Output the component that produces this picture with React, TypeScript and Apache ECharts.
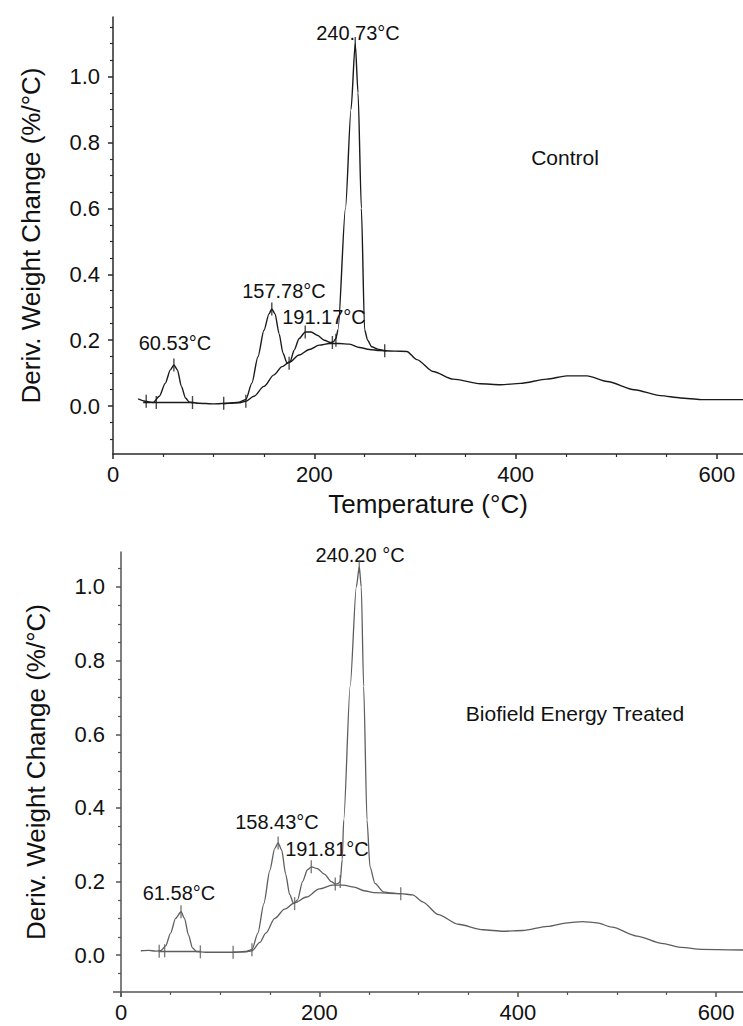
import React, { useEffect, useRef } from "react";
import * as echarts from "echarts";

// ---------- tick values ----------
const xMajorTicks = [0, 200, 400, 600];
const xMinorTicks = [50, 100, 150, 250, 300, 350, 450, 500, 550];
const yMajorTicks = [0, 0.2, 0.4, 0.6, 0.8, 1.0];
const yMinorTicksTop = [-0.1, -0.05, 0.05, 0.1, 0.15, 0.25, 0.3, 0.35, 0.45, 0.5, 0.55, 0.65, 0.7, 0.75, 0.85, 0.9, 0.95, 1.05, 1.1, 1.15];
const yMinorTicksBottom = [-0.05, 0.05, 0.1, 0.15, 0.25, 0.3, 0.35, 0.45, 0.5, 0.55, 0.65, 0.7, 0.75, 0.85, 0.9, 0.95, 1.05];

// ---------- Control (top) ----------
const ctrlT = [25, 32, 40, 46, 52, 57, 60.5, 64, 68, 72, 76, 85, 100, 115, 125, 132, 138, 144, 150, 155, 157.8, 161, 165, 169, 173, 176, 180, 185, 191, 197, 203, 210, 216, 219, 221.5, 223.6, 231, 236.5, 240.7, 243.5, 246.8, 250, 253, 257, 263, 270, 280, 292, 302, 318, 338, 365, 385, 405, 431, 451, 471, 491, 518, 544, 564, 584, 626];
const ctrlD = [0.022, 0.015, 0.011, 0.03, 0.07, 0.11, 0.125, 0.11, 0.06, 0.025, 0.012, 0.009, 0.007, 0.009, 0.012, 0.02, 0.07, 0.15, 0.23, 0.28, 0.295, 0.28, 0.22, 0.16, 0.13, 0.135, 0.17, 0.205, 0.225, 0.225, 0.215, 0.2, 0.193, 0.195, 0.205, 0.232, 0.6, 0.9, 1.1, 0.95, 0.6, 0.232, 0.2, 0.18, 0.173, 0.168, 0.167, 0.166, 0.141, 0.105, 0.082, 0.068, 0.065, 0.069, 0.082, 0.092, 0.092, 0.075, 0.05, 0.032, 0.025, 0.02, 0.02];
const ctrlBaseT = [110, 125, 132, 140, 150, 160, 168, 175, 185, 195, 205, 215, 225, 235, 245, 255, 265, 272];
const ctrlBaseD = [0.008, 0.01, 0.015, 0.03, 0.06, 0.095, 0.12, 0.133, 0.155, 0.172, 0.185, 0.19, 0.19, 0.188, 0.178, 0.172, 0.169, 0.168];
const ctrlFlatT = [30, 80];
const ctrlFlatD = [0.011, 0.011];
const ctrlMarkT = [33, 43, 79, 110, 132, 175, 218, 221.5, 270, 60.5, 157.8, 191, 240.7];
const ctrlMarkD = [0.015, 0.011, 0.011, 0.009, 0.015, 0.13, 0.193, 0.2, 0.168, 0.125, 0.295, 0.225, 1.1];

// ---------- Biofield Energy Treated (bottom) ----------
const trtT = [20, 28, 35, 40, 45, 50, 55, 60.5, 64, 68, 72, 76, 85, 100, 115, 125, 132, 138, 144, 150, 155, 158.4, 162, 166, 170, 174, 178, 183, 188, 192, 198, 205, 212, 216, 219, 221, 223, 224.5, 231, 237.2, 240.2, 242.2, 244.6, 248, 251, 256, 264.5, 272, 282, 294, 304, 320, 340, 365, 385, 405, 430, 450, 465, 480, 495, 520, 545, 565, 585, 627];
const trtD = [0.012, 0.013, 0.011, 0.012, 0.025, 0.06, 0.1, 0.118, 0.1, 0.055, 0.02, 0.01, 0.008, 0.008, 0.008, 0.01, 0.015, 0.06, 0.14, 0.23, 0.29, 0.305, 0.285, 0.22, 0.165, 0.14, 0.15, 0.2, 0.232, 0.24, 0.235, 0.22, 0.2, 0.193, 0.195, 0.2, 0.26, 0.367, 0.73, 1.0, 1.055, 1.0, 0.73, 0.367, 0.24, 0.195, 0.172, 0.169, 0.167, 0.164, 0.145, 0.11, 0.084, 0.069, 0.065, 0.067, 0.078, 0.088, 0.091, 0.088, 0.076, 0.052, 0.032, 0.021, 0.016, 0.014];
const trtBaseT = [113, 125, 132, 140, 146, 155, 165, 175, 187, 200, 213, 224, 235, 245, 255, 270, 282];
const trtBaseD = [0.008, 0.009, 0.012, 0.035, 0.06, 0.1, 0.125, 0.142, 0.158, 0.18, 0.19, 0.19, 0.185, 0.175, 0.17, 0.168, 0.167];
const trtFlatT = [38, 80];
const trtFlatD = [0.01, 0.01];
const trtMarkT = [38.5, 44, 80, 113, 132, 175, 216, 221, 282, 60.5, 158.4, 191.8, 240.2];
const trtMarkD = [0.011, 0.012, 0.009, 0.008, 0.015, 0.14, 0.193, 0.2, 0.167, 0.118, 0.305, 0.24, 1.055];

const zip = (a: number[], b: number[]) => a.map((v, i) => [v, b[i]]);

const FONT = "Liberation Sans, Arial, sans-serif";

function makeAxes(gi: number, xmax: number, ymin: number, ymax: number, yMinor: number[], color: string, showXName: boolean, yNameGap: number, yLabelMargin: number) {
  const line = { color, width: 1.5 };
  const xs = [
    {
      gridIndex: gi, type: "value", min: 0, max: xmax, position: "bottom",
      axisLine: { show: true, onZero: false, lineStyle: line },
      axisTick: { show: true, length: 5, lineStyle: line, customValues: xMajorTicks },
      axisLabel: { show: true, fontSize: 22, color: "#111", margin: 9, fontFamily: FONT, customValues: xMajorTicks, formatter: (v: number) => String(Math.round(v)) },
      splitLine: { show: false },
      name: showXName ? "Temperature (°C)" : "",
      nameLocation: "middle", nameGap: 37,
      nameTextStyle: { fontSize: 26, color: "#111", fontFamily: FONT },
    },
    {
      gridIndex: gi, type: "value", min: 0, max: xmax, position: "bottom",
      axisLine: { show: false, onZero: false },
      axisTick: { show: true, length: 3, lineStyle: { color, width: 1.2 }, customValues: xMinorTicks },
      axisLabel: { show: false },
      splitLine: { show: false },
    },
  ];
  const ys = [
    {
      gridIndex: gi, type: "value", min: ymin, max: ymax, position: "left",
      axisLine: { show: true, onZero: false, lineStyle: line },
      axisTick: { show: true, length: 5, lineStyle: line, customValues: yMajorTicks },
      axisLabel: { show: true, fontSize: 22, color: "#111", margin: yLabelMargin, fontFamily: FONT, customValues: yMajorTicks, formatter: (v: number) => v.toFixed(1) },
      splitLine: { show: false },
      name: "Deriv. Weight Change (%/°C)",
      nameLocation: "middle", nameGap: yNameGap,
      nameTextStyle: { fontSize: 26, color: "#111", fontFamily: FONT },
    },
    {
      gridIndex: gi, type: "value", min: ymin, max: ymax, position: "left",
      axisLine: { show: false, onZero: false },
      axisTick: { show: true, length: 3, lineStyle: { color, width: 1.2 }, customValues: yMinor },
      axisLabel: { show: false },
      splitLine: { show: false },
    },
  ];
  return { xs, ys };
}

function makeSeries(gi: number, color: string, width: number, main: number[][], base: number[][], flat: number[][], marks: number[][]) {
  const xi = gi * 2;
  const yi = gi * 2;
  const ls = { color, width };
  return [
    { type: "line", xAxisIndex: xi, yAxisIndex: yi, data: main, showSymbol: false, smooth: 0.25, smoothMonotone: "x", lineStyle: ls, itemStyle: { color }, silent: true },
    { type: "line", xAxisIndex: xi, yAxisIndex: yi, data: base, showSymbol: false, smooth: 0.3, smoothMonotone: "x", lineStyle: ls, itemStyle: { color }, silent: true },
    { type: "line", xAxisIndex: xi, yAxisIndex: yi, data: flat, showSymbol: false, lineStyle: ls, itemStyle: { color }, silent: true },
    { type: "scatter", xAxisIndex: xi, yAxisIndex: yi, data: marks, symbol: "rect", symbolSize: [1.4, 13], itemStyle: { color }, silent: true },
  ];
}

function txt(text: string, x: number, y: number, size: number) {
  return {
    type: "text", x, y, silent: true,
    style: { text, fill: "#111", font: `${size}px ${FONT}`, textAlign: "center", textVerticalAlign: "middle", align: "center", verticalAlign: "middle" },
  };
}

export default function App() {
  const ref = useRef<HTMLDivElement>(null);
  useEffect(() => {
    if (!ref.current) return;
    const chart = echarts.init(ref.current, undefined, { renderer: "svg" });
    const topColor = "#1a1a1a";
    const botColor = "#5e5e5e";
    const a0 = makeAxes(0, 626, -0.145, 1.18, yMinorTicksTop, "#2a2a2a", true, 69, 13);
    const a1 = makeAxes(1, 627, -0.1, 1.095, yMinorTicksBottom, "#555", false, 72, 16);
    const option: any = {
      animation: false,
      backgroundColor: "#fff",
      textStyle: { fontFamily: FONT },
      grid: [
        { left: 113, top: 17, width: 630, height: 437 },
        { left: 121, top: 552, width: 622, height: 440 },
      ],
      xAxis: [...a0.xs, ...a1.xs],
      yAxis: [...a0.ys, ...a1.ys],
      series: [
        ...makeSeries(0, topColor, 1.4, zip(ctrlT, ctrlD), zip(ctrlBaseT, ctrlBaseD), zip(ctrlFlatT, ctrlFlatD), zip(ctrlMarkT, ctrlMarkD)),
        ...makeSeries(1, botColor, 1.3, zip(trtT, trtD), zip(trtBaseT, trtBaseD), zip(trtFlatT, trtFlatD), zip(trtMarkT, trtMarkD)),
      ],
      graphic: [
        txt("240.73°C", 358, 33, 20),
        txt("157.78°C", 284, 291, 20),
        txt("191.17°C", 324, 317, 20),
        txt("60.53°C", 175, 343, 20),
        txt("Control", 565, 157, 21),
        txt("240.20 °C", 360, 555, 20),
        txt("158.43°C", 277, 822, 20),
        txt("191.81°C", 327, 849, 20),
        txt("61.58°C", 179, 893, 20),
        txt("Biofield Energy Treated", 575, 713, 21),
        { type: "line", silent: true, shape: { x1: 113, y1: 992, x2: 121, y2: 992 }, style: { stroke: "#555", lineWidth: 1.5 } },
        { type: "line", silent: true, shape: { x1: 121, y1: 992, x2: 121, y2: 997 }, style: { stroke: "#555", lineWidth: 1.5 } },
      ],
    };
    chart.setOption(option);
    return () => chart.dispose();
  }, []);
  return (
    <div
      ref={ref}
      style={{ position: "absolute", left: 0, top: 0, width: 743, height: 1026, overflow: "hidden", background: "#fff" }}
    />
  );
}
